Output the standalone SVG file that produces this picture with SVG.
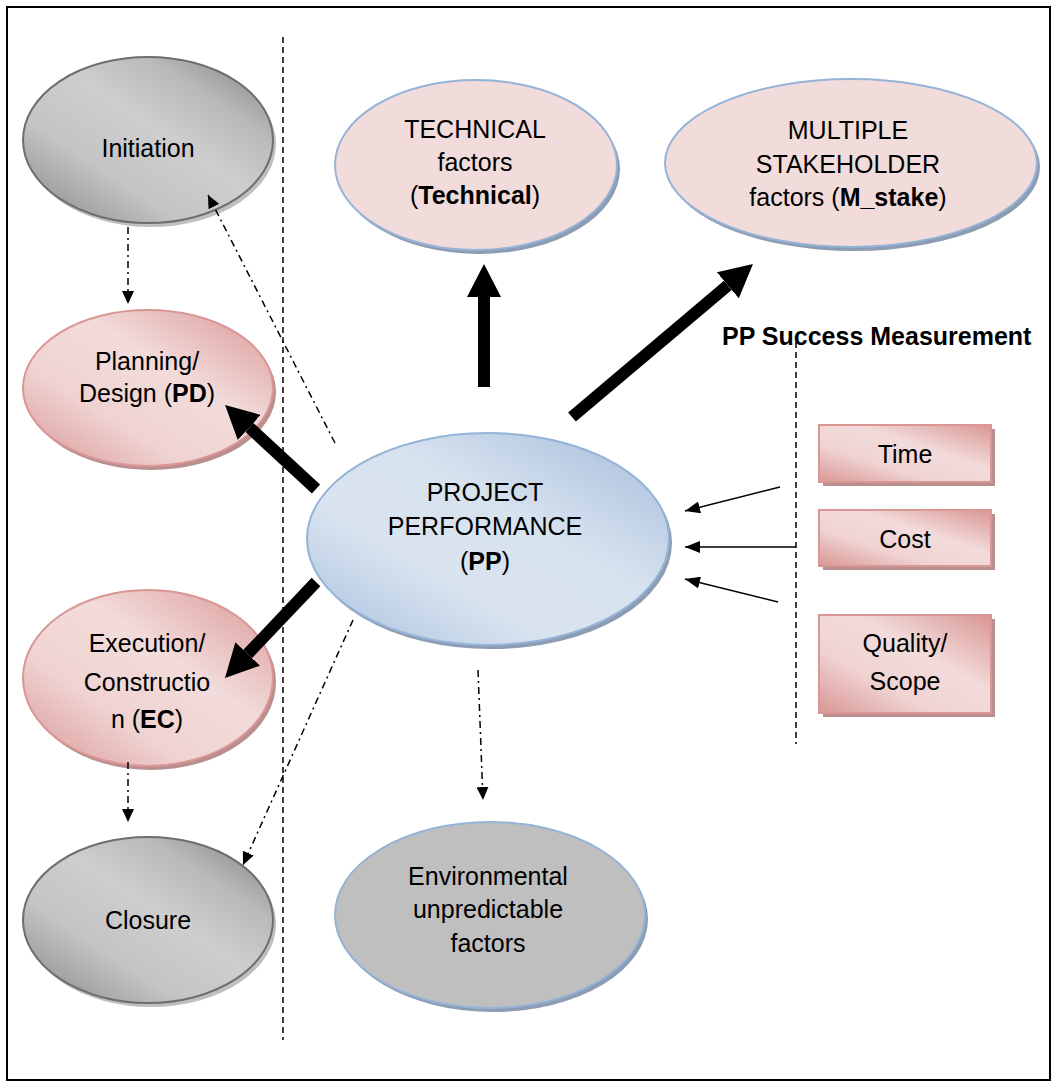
<svg xmlns="http://www.w3.org/2000/svg" width="1054" height="1084" viewBox="0 0 1054 1084">
  <style>
    text { font-family: "Liberation Sans", Arial, sans-serif; font-size: 25px; fill: #000; text-anchor: middle; }
    .b { font-weight: bold; }
    .grey { fill: url(#gGrey); stroke: #6e6e6e; stroke-width: 2; }
    .greyShadow { fill: #bfbfbf; }
    .pink { fill: url(#gPink); stroke: #d99694; stroke-width: 2; }
    .pinkShadow { fill: #b88e8e; }
    .pinkFlat { fill: #f2dcdb; stroke: #95b3d7; stroke-width: 2; }
    .blue { fill: url(#gBlue); stroke: #95b3d7; stroke-width: 2; }
    .blueShadow { fill: #8c9db3; }
    .env { fill: #bfbfbf; stroke: #95b3d7; stroke-width: 2; }
    .thick { stroke: #000; stroke-width: 12; fill: none; marker-end: url(#headThick); }
    .thin { stroke: #000; stroke-width: 1.5; fill: none; marker-end: url(#headThin); }
    .dashdot { stroke: #000; stroke-width: 1.5; fill: none; stroke-dasharray: 7 4 2 4; marker-end: url(#headDot); }
    .sep { stroke: #000; stroke-width: 1.5; fill: none; stroke-dasharray: 6 4; }
  </style>
  <defs>
    <linearGradient id="gGrey" x1="0" y1="1" x2="1" y2="0">
      <stop offset="0" stop-color="#858585"/>
      <stop offset="0.32" stop-color="#c4c4c4"/>
      <stop offset="0.55" stop-color="#cecece"/>
      <stop offset="0.75" stop-color="#b9b9b9"/>
      <stop offset="1" stop-color="#7d7d7d"/>
    </linearGradient>
    <linearGradient id="gPink" x1="0" y1="1" x2="1" y2="0">
      <stop offset="0" stop-color="#d99694"/>
      <stop offset="0.33" stop-color="#efd3d2"/>
      <stop offset="0.6" stop-color="#f2dcdb"/>
      <stop offset="1" stop-color="#d99694"/>
    </linearGradient>
    <linearGradient id="gBlue" x1="0" y1="1" x2="1" y2="0">
      <stop offset="0" stop-color="#a7bfde"/>
      <stop offset="0.35" stop-color="#dae4f0"/>
      <stop offset="0.6" stop-color="#d7e2ef"/>
      <stop offset="1" stop-color="#a3bbda"/>
    </linearGradient>
    <marker id="headThick" markerUnits="userSpaceOnUse" viewBox="0 -17 33 34" markerWidth="33" markerHeight="34" refX="0" refY="0" orient="auto">
      <path d="M0,-17 L33,0 L0,17 z" fill="#000"/>
    </marker>
    <marker id="headThin" markerUnits="userSpaceOnUse" viewBox="0 -6 15 12" markerWidth="15" markerHeight="12" refX="15" refY="0" orient="auto">
      <path d="M0,-6 L15,0 L0,6 z" fill="#000"/>
    </marker>
    <marker id="headDot" markerUnits="userSpaceOnUse" viewBox="0 -6 13 12" markerWidth="13" markerHeight="12" refX="13" refY="0" orient="auto">
      <path d="M0,-6 L13,0 L0,6 z" fill="#000"/>
    </marker>
  </defs>

  <rect x="7" y="7" width="1043" height="1073" fill="#fff" stroke="#000" stroke-width="2"/>

  <!-- separators -->
  <g id="separators">
    <line class="sep" x1="283" y1="37" x2="283" y2="1040"/>
    <line class="sep" x1="796" y1="342" x2="796" y2="744"/>
  </g>

  <!-- lifecycle phases -->
  <g id="initiation">
    <ellipse class="greyShadow" cx="151" cy="144" rx="125" ry="83"/>
    <ellipse class="grey" cx="148" cy="140" rx="125" ry="83"/>
    <text x="148" y="157">Initiation</text>
  </g>
  <g id="planning">
    <ellipse class="pinkShadow" cx="151" cy="392" rx="125" ry="78"/>
    <ellipse class="pink" cx="148" cy="388" rx="125" ry="78"/>
    <text x="147" y="370">Planning/</text>
    <text x="147" y="402">Design (<tspan class="b">PD</tspan>)</text>
  </g>
  <g id="execution">
    <ellipse class="pinkShadow" cx="151" cy="682" rx="125" ry="88"/>
    <ellipse class="pink" cx="148" cy="678" rx="125" ry="88"/>
    <text x="147" y="652">Execution/</text>
    <text x="147" y="691">Constructio</text>
    <text x="147" y="728">n (<tspan class="b">EC</tspan>)</text>
  </g>
  <g id="closure">
    <ellipse class="greyShadow" cx="151" cy="924" rx="125" ry="83"/>
    <ellipse class="grey" cx="148" cy="920" rx="125" ry="83"/>
    <text x="148" y="929">Closure</text>
  </g>

  <!-- factor groups -->
  <g id="technical">
    <ellipse class="blueShadow" cx="479" cy="169" rx="141" ry="85"/>
    <ellipse class="pinkFlat" cx="476" cy="165" rx="141" ry="85"/>
    <text x="475" y="138">TECHNICAL</text>
    <text x="475" y="171">factors</text>
    <text x="475" y="204">(<tspan class="b">Technical</tspan>)</text>
  </g>
  <g id="m_stake">
    <ellipse class="blueShadow" cx="854" cy="167" rx="186" ry="84"/>
    <ellipse class="pinkFlat" cx="851" cy="163" rx="186" ry="84"/>
    <text x="848" y="139">MULTIPLE</text>
    <text x="848" y="173">STAKEHOLDER</text>
    <text x="848" y="206">factors (<tspan class="b">M_stake</tspan>)</text>
  </g>
  <g id="pp">
    <ellipse class="blueShadow" cx="491" cy="543" rx="181" ry="106"/>
    <ellipse class="blue" cx="488" cy="539" rx="181" ry="106"/>
    <text x="485" y="501">PROJECT</text>
    <text x="485" y="535">PERFORMANCE</text>
    <text x="485" y="570">(<tspan class="b">PP</tspan>)</text>
  </g>
  <g id="environmental">
    <ellipse class="blueShadow" cx="493" cy="919" rx="155" ry="93"/>
    <ellipse class="env" cx="490" cy="915" rx="155" ry="93"/>
    <text x="488" y="885">Environmental</text>
    <text x="488" y="918">unpredictable</text>
    <text x="488" y="952">factors</text>
  </g>

  <!-- success measures -->
  <g id="measure-title">
    <text class="b" x="722" y="345" style="text-anchor:start">PP Success Measurement</text>
  </g>
  <g id="time">
    <rect class="pinkShadow" x="823" y="429" width="172" height="57"/>
    <rect class="pink" x="819" y="425" width="172" height="57"/>
    <text x="905" y="463">Time</text>
  </g>
  <g id="cost">
    <rect class="pinkShadow" x="823" y="514" width="172" height="56"/>
    <rect class="pink" x="819" y="510" width="172" height="56"/>
    <text x="905" y="548">Cost</text>
  </g>
  <g id="quality">
    <rect class="pinkShadow" x="823" y="619" width="172" height="98"/>
    <rect class="pink" x="819" y="615" width="172" height="98"/>
    <text x="905" y="652">Quality/</text>
    <text x="905" y="690">Scope</text>
  </g>

  <!-- connectors -->
  <g id="connectors">
    <line class="thick" x1="484" y1="387" x2="484" y2="297"/>
    <line class="thick" x1="572" y1="417" x2="727.8" y2="285.3"/>
    <line class="thick" x1="316" y1="489" x2="249.3" y2="427.4"/>
    <line class="thick" x1="316" y1="582" x2="247.7" y2="654"/>

    <line class="thin" x1="780" y1="487" x2="685" y2="511"/>
    <line class="thin" x1="796" y1="547" x2="685" y2="547"/>
    <line class="thin" x1="778" y1="602" x2="685" y2="579"/>

    <line class="dashdot" x1="335" y1="443" x2="208" y2="195"/>
    <line class="dashdot" x1="128" y1="227" x2="128" y2="304"/>
    <line class="dashdot" x1="128" y1="762" x2="128" y2="822"/>
    <line class="dashdot" x1="353" y1="620" x2="243" y2="865"/>
    <line class="dashdot" x1="478" y1="670" x2="483" y2="800"/>
  </g>
</svg>
